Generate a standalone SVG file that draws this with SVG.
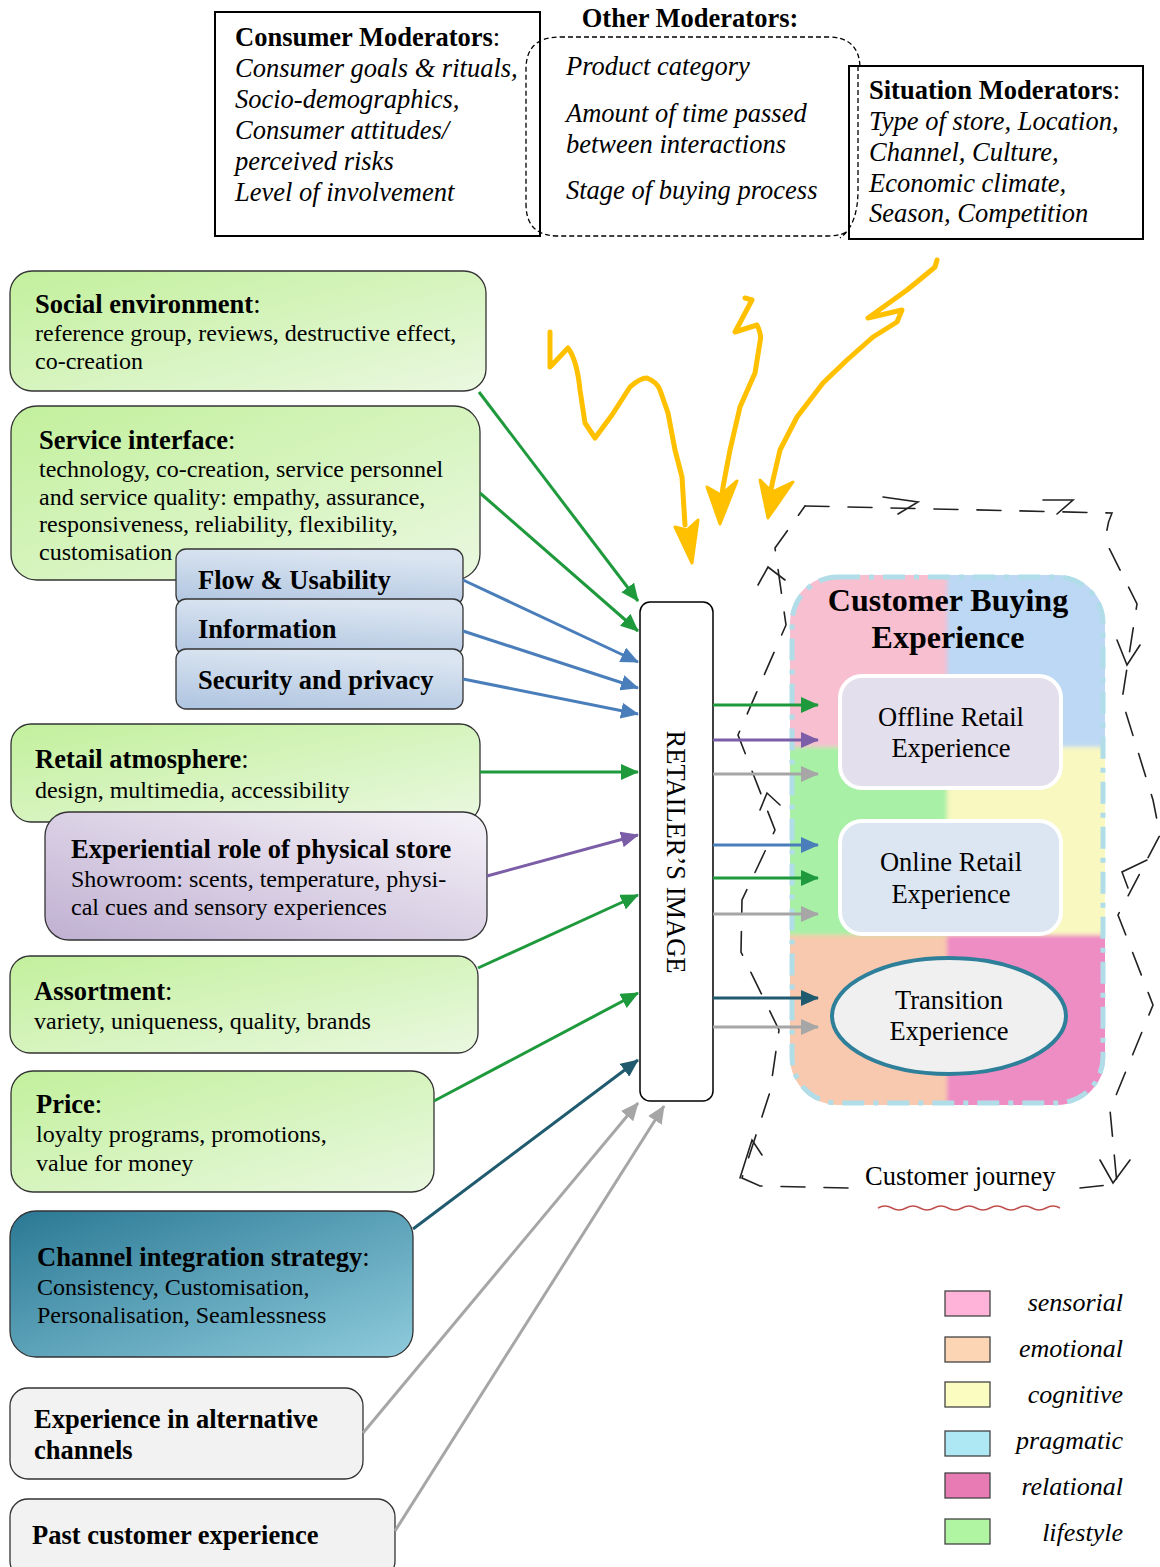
<svg xmlns="http://www.w3.org/2000/svg" width="1160" height="1567" viewBox="0 0 1160 1567">
<style>
text{font-family:"Liberation Serif","Times New Roman",serif;fill:#000}
.t{font-size:26.5px}
.b{font-weight:bold}
.i{font-style:italic}
.body{font-size:24px}
.hd{font-size:26.5px;font-weight:bold}
.box{stroke:#333;stroke-width:1.3}
.conn{fill:none;stroke-width:3}
.g{stroke:#1e9a3c}.bl{stroke:#4a7ebb}.pu{stroke:#7b5ea7}.gr{stroke:#a6a6a6}.tl{stroke:#1f5a6e}
.yl{fill:none;stroke:#ffc000;stroke-width:5;stroke-linecap:round;stroke-linejoin:round}
.yh{fill:#ffc000;stroke:#ffc000;stroke-width:3;stroke-linejoin:round}
.jr{fill:none;stroke:#222;stroke-width:1.6;stroke-dasharray:24 19;stroke-linecap:round}
.ch{fill:none;stroke:#222;stroke-width:1.6;stroke-linecap:round}
.lg{stroke:#444;stroke-width:1.3}
.ct{text-anchor:middle}
.mid{font-size:26.5px}
</style>
<defs>
<linearGradient id="gGreen" x1="0" y1="0" x2="1" y2="1"><stop offset="0" stop-color="#c2f09c"/><stop offset="1" stop-color="#eaf8e0"/></linearGradient>
<linearGradient id="gBlue" x1="0.3" y1="0" x2="0" y2="1"><stop offset="0" stop-color="#dbe5f1"/><stop offset="1" stop-color="#aec4e0"/></linearGradient>
<linearGradient id="gPurple" x1="0" y1="1" x2="1" y2="0"><stop offset="0" stop-color="#c0b0d2"/><stop offset="1" stop-color="#f5f2f8"/></linearGradient>
<linearGradient id="gTeal" x1="0" y1="0" x2="1" y2="1"><stop offset="0" stop-color="#2a7894"/><stop offset="1" stop-color="#8ecbdc"/></linearGradient>
<marker id="aG" markerUnits="userSpaceOnUse" markerWidth="18" markerHeight="16" refX="17" refY="8" orient="auto"><path d="M0,0 L18,8 L0,16 z" fill="#1e9a3c"/></marker>
<marker id="aB" markerUnits="userSpaceOnUse" markerWidth="18" markerHeight="16" refX="17" refY="8" orient="auto"><path d="M0,0 L18,8 L0,16 z" fill="#4a7ebb"/></marker>
<marker id="aP" markerUnits="userSpaceOnUse" markerWidth="18" markerHeight="16" refX="17" refY="8" orient="auto"><path d="M0,0 L18,8 L0,16 z" fill="#7b5ea7"/></marker>
<marker id="aGr" markerUnits="userSpaceOnUse" markerWidth="18" markerHeight="16" refX="17" refY="8" orient="auto"><path d="M0,0 L18,8 L0,16 z" fill="#a6a6a6"/></marker>
<marker id="aT" markerUnits="userSpaceOnUse" markerWidth="18" markerHeight="16" refX="17" refY="8" orient="auto"><path d="M0,0 L18,8 L0,16 z" fill="#1f5a6e"/></marker>
<clipPath id="cbeClip"><rect x="790" y="575" width="315" height="530" rx="48"/></clipPath>
<filter id="soft" x="-5%" y="-5%" width="110%" height="110%"><feGaussianBlur stdDeviation="2"/></filter>
</defs>

<!-- Moderators -->
<g id="consumer-moderators">
<rect x="215" y="12" width="325" height="224" fill="#fff" stroke="#000" stroke-width="2"/>
<text class="t" x="235" y="46"><tspan class="b">Consumer Moderators</tspan>:</text>
<text class="t i" x="235" y="77">Consumer goals &amp; rituals,</text>
<text class="t i" x="235" y="108">Socio-demographics,</text>
<text class="t i" x="235" y="139">Consumer attitudes/</text>
<text class="t i" x="235" y="170">perceived risks</text>
<text class="t i" x="235" y="201">Level of involvement</text>
</g>
<g id="other-moderators">
<text class="t b" x="690" y="27" text-anchor="middle">Other Moderators:</text>
<path d="M560,37 H828 Q860,37 860,69 V204 Q860,236 828,236 H558 Q526,236 526,204 V69 Q526,37 560,37 Z" fill="none" stroke="#000" stroke-width="1.3" stroke-dasharray="5 3"/>
<text class="t i" x="566" y="75">Product category</text>
<text class="t i" x="566" y="122">Amount of time passed</text>
<text class="t i" x="566" y="153">between interactions</text>
<text class="t i" x="566" y="199">Stage of buying process</text>
</g>
<g id="situation-moderators">
<rect x="849" y="66" width="294" height="173" fill="#fff" stroke="#000" stroke-width="2"/>
<path d="M858,66 V190 Q858,225 840,238" fill="none" stroke="#000" stroke-width="1.3" stroke-dasharray="5 3"/>
<text class="t" x="869" y="99"><tspan class="b">Situation Moderators</tspan>:</text>
<text class="t i" x="869" y="130">Type of store, Location,</text>
<text class="t i" x="869" y="161">Channel, Culture,</text>
<text class="t i" x="869" y="192">Economic climate,</text>
<text class="t i" x="869" y="222">Season, Competition</text>
</g>

<!-- Customer buying experience -->
<g id="customer-buying-experience">
<g clip-path="url(#cbeClip)" filter="url(#soft)">
<rect x="780" y="565" width="167" height="182" fill="#f7bfd0"/>
<rect x="947" y="565" width="170" height="182" fill="#bcd8f4"/>
<rect x="780" y="747" width="167" height="188" fill="#a8f0a6"/>
<rect x="947" y="747" width="170" height="188" fill="#f8f8c0"/>
<rect x="780" y="935" width="167" height="180" fill="#f8c9ae"/>
<rect x="947" y="935" width="170" height="180" fill="#ee8cc4"/>
</g>
<rect x="792" y="577" width="311" height="526" rx="46" fill="none" stroke="#b0dde8" stroke-width="5" stroke-dasharray="22 9 5 9"/>
<text class="b ct" x="948" y="611" font-size="32">Customer Buying</text>
<text class="b ct" x="948" y="648" font-size="32">Experience</text>
</g>
<g id="offline-retail">
<rect x="840" y="676" width="221" height="112" rx="22" fill="#e4dfec" stroke="#fff" stroke-width="4"/>
<text class="ct mid" x="951" y="726">Offline Retail</text>
<text class="ct mid" x="951" y="757">Experience</text>
</g>
<g id="online-retail">
<rect x="840" y="821" width="221" height="113" rx="22" fill="#dce6f2" stroke="#fff" stroke-width="4"/>
<text class="ct mid" x="951" y="871">Online Retail</text>
<text class="ct mid" x="951" y="903">Experience</text>
</g>
<g id="transition">
<ellipse cx="949" cy="1016" rx="117" ry="58" fill="#f0f0f0" stroke="#2e7f99" stroke-width="4"/>
<text class="ct mid" x="949" y="1009">Transition</text>
<text class="ct mid" x="949" y="1040">Experience</text>
</g>

<!-- Customer journey loop -->
<g id="customer-journey">
<path class="jr" d="M805,506 L1112,513 Q1104,530 1108,546 L1137,604 L1122,700 L1153,800 L1160,835 L1118,915 L1153,1005 L1110,1110 L1117,1184 L1080,1188"/>
<path class="jr" d="M848,1188 L760,1186 L742,1178 L770,1092 L779,1030 L741,952 L742,900 L775,830 L738,735 L786,625 L775,548 L805,506"/>
<path class="ch" d="M883,497 L918,502 L898,514 M1043,500 L1073,500 L1057,514 M1117,640 L1127,665 L1140,645 M1147,860 L1122,872 L1128,888 M1100,1160 L1113,1183 L1130,1160 M740,1178 L752,1140 L762,1155 M760,810 L767,793 L780,805 M758,585 L768,567 L785,580"/>
<text x="865" y="1185" font-size="26.5">Customer journey</text>
<path d="M878,1208 q7,-4 14,0 t14,0 t14,0 t14,0 t14,0 t14,0 t14,0 t14,0 t14,0 t14,0 t14,0 t14,0 t14,0" fill="none" stroke="#c0504d" stroke-width="1.5"/>
</g>

<!-- Retailer's image -->
<g id="retailers-image">
<rect x="640" y="602" width="73" height="499" rx="10" fill="#fff" stroke="#000" stroke-width="1.5"/>
<text transform="translate(667,852) rotate(90)" text-anchor="middle" font-size="26.5">RETAILER’S IMAGE</text>
</g>

<!-- Left nodes -->
<g id="social-environment">
<rect class="box" x="10" y="271" width="476" height="120" rx="22" fill="url(#gGreen)"/>
<text class="hd" x="35" y="313">Social environment<tspan font-weight="normal">:</tspan></text>
<text class="body" x="35" y="341">reference group, reviews, destructive effect,</text>
<text class="body" x="35" y="369">co-creation</text>
</g>
<g id="service-interface">
<rect class="box" x="11" y="406" width="469" height="174" rx="26" fill="url(#gGreen)"/>
<text class="hd" x="39" y="449">Service interface<tspan font-weight="normal">:</tspan></text>
<text class="body" x="39" y="477">technology, co-creation, service personnel</text>
<text class="body" x="39" y="505">and service quality: empathy, assurance,</text>
<text class="body" x="39" y="532">responsiveness, reliability, flexibility,</text>
<text class="body" x="39" y="560">customisation</text>
</g>
<g id="flow-usability">
<rect class="box" x="176" y="549" width="287" height="56" rx="10" fill="url(#gBlue)"/>
<text class="hd" x="198" y="589">Flow &amp; Usability</text>
</g>
<g id="information">
<rect class="box" x="176" y="599" width="287" height="56" rx="10" fill="url(#gBlue)"/>
<text class="hd" x="198" y="638">Information</text>
</g>
<g id="security-privacy">
<rect class="box" x="176" y="649" width="287" height="60" rx="10" fill="url(#gBlue)"/>
<text class="hd" x="198" y="689">Security and privacy</text>
</g>
<g id="retail-atmosphere">
<rect class="box" x="11" y="724" width="469" height="98" rx="20" fill="url(#gGreen)"/>
<text class="hd" x="35" y="768">Retail atmosphere<tspan font-weight="normal">:</tspan></text>
<text class="body" x="35" y="798">design, multimedia, accessibility</text>
</g>
<g id="experiential-role">
<rect class="box" x="45" y="812" width="442" height="128" rx="24" fill="url(#gPurple)"/>
<text class="hd" x="71" y="858">Experiential role of physical store</text>
<text class="body" x="71" y="887">Showroom: scents, temperature, physi-</text>
<text class="body" x="71" y="915">cal cues and sensory experiences</text>
</g>
<g id="assortment">
<rect class="box" x="10" y="956" width="468" height="97" rx="20" fill="url(#gGreen)"/>
<text class="hd" x="34" y="1000">Assortment<tspan font-weight="normal">:</tspan></text>
<text class="body" x="34" y="1029">variety, uniqueness, quality, brands</text>
</g>
<g id="price">
<rect class="box" x="11" y="1071" width="423" height="121" rx="22" fill="url(#gGreen)"/>
<text class="hd" x="36" y="1113">Price<tspan font-weight="normal">:</tspan></text>
<text class="body" x="36" y="1142">loyalty programs, promotions,</text>
<text class="body" x="36" y="1171">value for money</text>
</g>
<g id="channel-integration">
<rect class="box" x="10" y="1211" width="403" height="146" rx="26" fill="url(#gTeal)"/>
<text class="hd" x="37" y="1266">Channel integration strategy<tspan font-weight="normal">:</tspan></text>
<text class="body" x="37" y="1295">Consistency, Customisation,</text>
<text class="body" x="37" y="1323">Personalisation, Seamlessness</text>
</g>
<g id="experience-alternative">
<rect class="box" x="10" y="1388" width="353" height="91" rx="18" fill="#f2f2f2"/>
<text class="hd" x="34" y="1428">Experience in alternative</text>
<text class="hd" x="34" y="1459">channels</text>
</g>
<g id="past-experience">
<rect class="box" x="10" y="1499" width="385" height="80" rx="18" fill="#f2f2f2"/>
<text class="hd" x="32" y="1544">Past customer experience</text>
</g>

<!-- Connectors -->
<g id="connectors">
<line class="conn g" x1="479" y1="392" x2="638" y2="601" marker-end="url(#aG)"/>
<line class="conn g" x1="480" y1="493" x2="638" y2="631" marker-end="url(#aG)"/>
<line class="conn bl" x1="463" y1="580" x2="638" y2="662" marker-end="url(#aB)"/>
<line class="conn bl" x1="463" y1="631" x2="638" y2="688" marker-end="url(#aB)"/>
<line class="conn bl" x1="463" y1="679" x2="638" y2="714" marker-end="url(#aB)"/>
<line class="conn g" x1="480" y1="772" x2="638" y2="772" marker-end="url(#aG)"/>
<line class="conn pu" x1="487" y1="876" x2="638" y2="835" marker-end="url(#aP)"/>
<line class="conn g" x1="478" y1="968" x2="638" y2="895" marker-end="url(#aG)"/>
<line class="conn g" x1="434" y1="1101" x2="638" y2="993" marker-end="url(#aG)"/>
<line class="conn tl" x1="413" y1="1229" x2="638" y2="1060" marker-end="url(#aT)"/>
<line class="conn gr" x1="363" y1="1433" x2="638" y2="1103" marker-end="url(#aGr)"/>
<line class="conn gr" x1="395" y1="1531" x2="664" y2="1106" marker-end="url(#aGr)"/>
<line class="conn g" x1="713" y1="705" x2="818" y2="705" marker-end="url(#aG)"/>
<line class="conn pu" x1="713" y1="740" x2="818" y2="740" marker-end="url(#aP)"/>
<line class="conn gr" x1="713" y1="774" x2="818" y2="774" marker-end="url(#aGr)"/>
<line class="conn bl" x1="713" y1="845" x2="818" y2="845" marker-end="url(#aB)"/>
<line class="conn g" x1="713" y1="878" x2="818" y2="878" marker-end="url(#aG)"/>
<line class="conn gr" x1="713" y1="914" x2="818" y2="914" marker-end="url(#aGr)"/>
<line class="conn tl" x1="713" y1="998" x2="818" y2="998" marker-end="url(#aT)"/>
<line class="conn gr" x1="713" y1="1027" x2="818" y2="1027" marker-end="url(#aGr)"/>
<!-- yellow moderator squiggles -->
<path class="yl" d="M550,332 L550,367 L568,348 Q577,360 580,390 L585,423 L595,438 L612,415 L630,387 Q640,378 647,378 Q657,382 660,390 L668,413 L675,450 L682,477 L685,525"/>
<path class="yh" d="M675,527 L692,563 L698,520 L687,530 Z"/>
<path class="yl" d="M745,298 L752,300 L735,332 L757,325 Q762,335 760,342 L755,373 L740,407 L730,450 L723,487 L720,510"/>
<path class="yh" d="M707,487 L720,524 L737,481 L721,495 Z"/>
<path class="yl" d="M937,260 L935,267 L923,277 L907,290 L868,318 L902,310 L897,322 L873,337 L847,360 L823,383 L797,417 L780,450 L773,480 L768,505"/>
<path class="yh" d="M760,480 L768,518 L793,482 L772,492 Z"/>
</g>

<!-- Legend -->
<g id="legend">
<rect class="lg" x="945" y="1291" width="45" height="25" fill="#ffb3d9"/>
<rect class="lg" x="945" y="1337" width="45" height="25" fill="#fcd5b5"/>
<rect class="lg" x="945" y="1382" width="45" height="25" fill="#fafcc0"/>
<rect class="lg" x="945" y="1431" width="45" height="25" fill="#ade8f4"/>
<rect class="lg" x="945" y="1473" width="45" height="25" fill="#e87ab4"/>
<rect class="lg" x="945" y="1519" width="45" height="25" fill="#b0f5a2"/>
<text class="i" x="1123" y="1311" font-size="26" text-anchor="end">sensorial</text>
<text class="i" x="1123" y="1357" font-size="26" text-anchor="end">emotional</text>
<text class="i" x="1123" y="1403" font-size="26" text-anchor="end">cognitive</text>
<text class="i" x="1123" y="1449" font-size="26" text-anchor="end">pragmatic</text>
<text class="i" x="1123" y="1495" font-size="26" text-anchor="end">relational</text>
<text class="i" x="1123" y="1541" font-size="26" text-anchor="end">lifestyle</text>
</g>
</svg>
